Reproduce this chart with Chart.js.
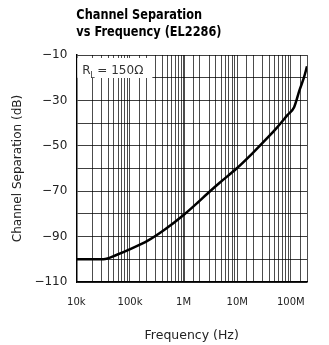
<!DOCTYPE html>
<html>
<head>
<meta charset="utf-8">
<script src="https://cdn.jsdelivr.net/npm/chart.js@4"></script>
<style>
  html, body { margin: 0; padding: 0; background: #fff; }
  #wrap { width: 329px; height: 345px; }
</style>
</head>
<body>
<div id="wrap"><canvas id="sepChart" width="329" height="345"></canvas></div>
<script>
// Curve
const freqHz = [1e4, 3.2e4, 5.7e4, 1.06e5, 2.15e5, 4.4e5, 1e6, 1.84e6, 2.8e6, 4.7e6, 9.7e6,
                1.9e7, 3.8e7, 5.4e7, 8.7e7, 1.15e8, 1.45e8, 1.75e8, 2e8];
const sepDb  = [-100, -100, -98, -95.3, -91.8, -87, -80.5, -75, -71, -66.3, -60,
                -53.4, -46.1, -42.2, -36.4, -33, -25.5, -20, -15];

const xTickLabels = { 1e4: "10k", 1e5: "100k", 1e6: "1M", 1e7: "10M", 1e8: "100M" };
const yTickLabels = [-10, -30, -50, -70, -90, -110];

const titleLines = ["Channel Separation", "vs Frequency (EL2286)"];

// title + R_L box drawn against the chart area
const extras = {
  id: "extras",
  afterDraw(chart) {
    const { ctx, chartArea } = chart;
    ctx.save();
    ctx.fillStyle = "#000";
    ctx.font = "bold 14px 'DejaVu Sans Condensed', sans-serif";
    ctx.textBaseline = "alphabetic";
    ctx.save();
    ctx.translate(chartArea.left, 0);
    ctx.scale(0.9, 1);
    ctx.fillText(titleLines[0], 0, 19);
    ctx.fillText(titleLines[1], 0, 36);
    ctx.restore();

    // load note in top-left corner
    const bx = chartArea.left + 1, by = chartArea.top + 3;
    ctx.fillStyle = "#fff";
    ctx.fillRect(bx, by, 75, 20);
    ctx.fillStyle = "#333";
    ctx.font = "12px 'DejaVu Sans', sans-serif";
    ctx.fillText("R", bx + 5, by + 16);
    ctx.font = "8px 'DejaVu Sans', sans-serif";
    ctx.fillText("L", bx + 13, by + 20);
    ctx.font = "12px 'DejaVu Sans', sans-serif";
    ctx.fillText("= 150\u03A9", bx + 20, by + 16);
    ctx.restore();
  }
};

new Chart(document.getElementById("sepChart"), {
  type: "line",
  data: {
    datasets: [{
      data: freqHz.map((f, i) => ({ x: f, y: sepDb[i] })),
      borderColor: "#000",
      borderWidth: 2.5,
      pointRadius: 0,
      cubicInterpolationMode: "monotone",
      fill: false
    }]
  },
  options: {
    responsive: false,
    animation: false,
    layout: { padding: { top: 55, right: 22, left: 0, bottom: 2 } },
    plugins: { legend: { display: false }, tooltip: { enabled: false } },
    scales: {
      x: {
        type: "logarithmic",
        min: 1e4,
        max: 2e8,
        border: { color: "#000", width: 1.5 },
        grid: {
          color: "rgba(0,0,0,0.7)",
          lineWidth: (c) => (c.tick && c.tick.value === 1e6 ? 2 : 1),
          drawTicks: false
        },
        ticks: {
          autoSkip: false,
          maxRotation: 0,
          padding: 14,
          color: "#222",
          font: { family: "'DejaVu Sans', sans-serif", size: 10 },
          callback: (v) => xTickLabels[v] || ""
        },
        title: {
          display: true,
          text: "Frequency (Hz)",
          color: "#222",
          padding: { top: 6, bottom: 0 },
          font: { family: "'DejaVu Sans', sans-serif", size: 12.5 }
        }
      },
      y: {
        min: -110,
        max: -10,
        border: { color: "#000", width: 1.5 },
        grid: { color: "rgba(0,0,0,0.75)", drawTicks: false },
        ticks: {
          stepSize: 10,
          padding: 9,
          color: "#222",
          font: { family: "'DejaVu Sans', sans-serif", size: 12 },
          callback: (v) => (yTickLabels.includes(v) ? "\u2212" + Math.abs(v) : "")
        },
        title: {
          display: true,
          text: "Channel Separation (dB)",
          color: "#222",
          padding: { top: 11, bottom: 0 },
          font: { family: "'DejaVu Sans', sans-serif", size: 12 }
        }
      }
    }
  },
  plugins: [extras]
});
</script>
</body>
</html>
